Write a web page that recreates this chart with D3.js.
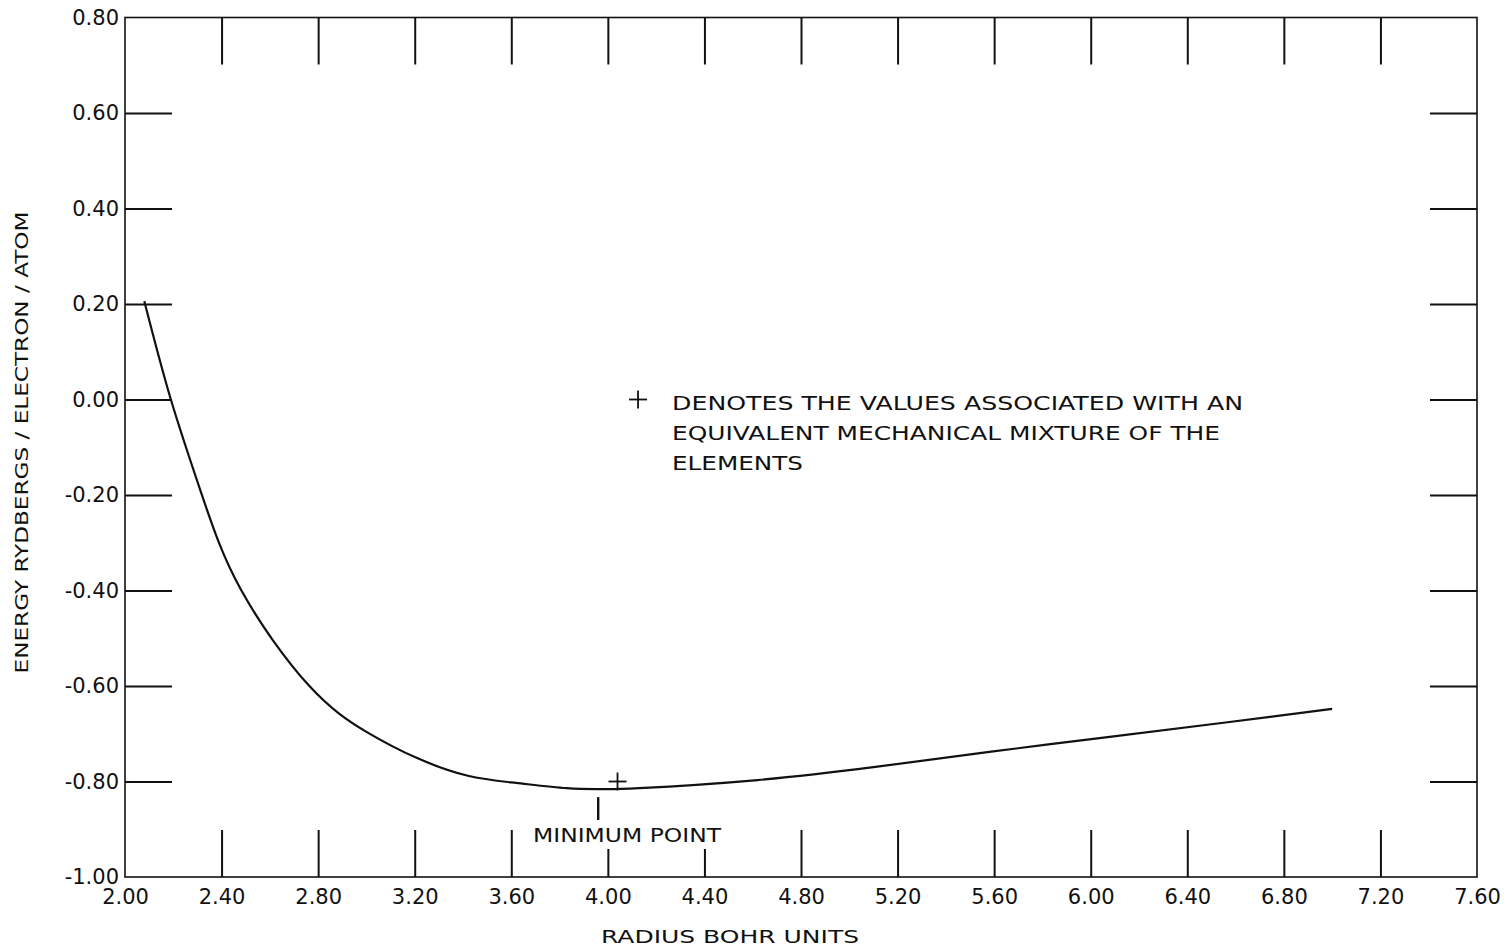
<!DOCTYPE html>
<html>
<head>
<meta charset="utf-8">
<script src="https://cdn.jsdelivr.net/npm/d3@7"></script>
<style>
  body { margin: 0; background: #fff; overflow: hidden; }
  svg { display: block; }
  text { font-family: "DejaVu Sans", sans-serif; fill: #111; }
</style>
</head>
<body>
<svg id="chart"></svg>
<script>
// curve
const radius = [2.08, 2.19, 2.32, 2.48, 2.76, 3.00, 3.21, 3.42, 3.62, 3.83, 3.97, 4.13, 4.62, 5.10, 5.58, 6.07, 6.55, 7.00];
const energy = [0.206, 0.00, -0.202, -0.398, -0.598, -0.696, -0.751, -0.788, -0.803, -0.814, -0.816, -0.814, -0.797, -0.770, -0.738, -0.707, -0.677, -0.648];

const xTicks = [2.00, 2.40, 2.80, 3.20, 3.60, 4.00, 4.40, 4.80, 5.20, 5.60, 6.00, 6.40, 6.80, 7.20, 7.60];
const yTicks = [0.80, 0.60, 0.40, 0.20, 0.00, -0.20, -0.40, -0.60, -0.80, -1.00];

const mixturePoint = [4.04, -0.80];   // the "+" on the curve
const minimumRadius = 3.96;
const legendLines = ['DENOTES THE  VALUES ASSOCIATED WITH AN', 'EQUIVALENT MECHANICAL MIXTURE OF THE', 'ELEMENTS'];

const width = 1508, height = 951;
const plotLeft = 125, plotRight = 1477, plotTop = 17.5, plotBottom = 877;
const tickLen = 47;

const svg = d3.select('#chart').attr('width', width).attr('height', height);

const x = d3.scaleLinear().domain([2.0, 7.6]).range([plotLeft, plotRight]);
const y = d3.scaleLinear().domain([-1.0, 0.8]).range([plotBottom, plotTop]);

const fmt = d => d3.format('.2f')(d).replace('\u2212', '-');

function styleAxis(g) {
  g.select('.domain').remove();
  g.selectAll('.tick line').attr('stroke', '#111').attr('stroke-width', 2);
  g.selectAll('.tick text').attr('font-size', 21).attr('fill', '#111')
    .style('font-family', '"DejaVu Sans", sans-serif');
}

// bottom axis with labels, ticks pointing in
svg.append('g').attr('transform', `translate(0,${plotBottom})`)
  .call(d3.axisBottom(x).tickValues(xTicks.slice(1, -1)).tickSize(-tickLen).tickFormat(''))
  .call(styleAxis);
svg.append('g').attr('transform', `translate(0,${plotBottom})`)
  .call(d3.axisBottom(x).tickValues(xTicks).tickSize(0).tickPadding(12).tickFormat(fmt))
  .call(styleAxis);

// top axis, ticks only
svg.append('g').attr('transform', `translate(0,${plotTop})`)
  .call(d3.axisTop(x).tickValues(xTicks.slice(1, -1)).tickSize(-tickLen).tickFormat(''))
  .call(styleAxis);

// left axis with labels
svg.append('g').attr('transform', `translate(${plotLeft},0)`)
  .call(d3.axisLeft(y).tickValues(yTicks.slice(1, -1)).tickSize(-tickLen).tickFormat(''))
  .call(styleAxis);
svg.append('g').attr('transform', `translate(${plotLeft},0)`)
  .call(d3.axisLeft(y).tickValues(yTicks).tickSize(0).tickPadding(6).tickFormat(fmt))
  .call(styleAxis);

// right axis, ticks only
svg.append('g').attr('transform', `translate(${plotRight},0)`)
  .call(d3.axisRight(y).tickValues(yTicks.slice(1, -1)).tickSize(-tickLen).tickFormat(''))
  .call(styleAxis);

// frame
svg.append('rect')
  .attr('x', plotLeft).attr('y', plotTop)
  .attr('width', plotRight - plotLeft).attr('height', plotBottom - plotTop)
  .attr('fill', 'none').attr('stroke', '#111').attr('stroke-width', 1.6);

// energy curve
const line = d3.line()
  .x((d, i) => x(radius[i]))
  .y(d => y(d))
  .curve(d3.curveNatural);

svg.append('path')
  .datum(energy)
  .attr('d', line)
  .attr('fill', 'none')
  .attr('stroke', '#111')
  .attr('stroke-width', 2.2);

// plus marker
function plus(cx, cy, h) {
  const g = svg.append('g').attr('stroke', '#111').attr('stroke-width', 1.8);
  g.append('line').attr('x1', cx - h).attr('x2', cx + h).attr('y1', cy).attr('y2', cy);
  g.append('line').attr('x1', cx).attr('x2', cx).attr('y1', cy - h).attr('y2', cy + h);
}
plus(x(mixturePoint[0]), y(mixturePoint[1]), 9);

// minimum point pointer and label
const mx = x(minimumRadius);
svg.append('line')
  .attr('x1', mx).attr('x2', mx)
  .attr('y1', y(-0.816) + 8).attr('y2', y(-0.816) + 33)
  .attr('stroke', '#111').attr('stroke-width', 2.4);

svg.append('rect')
  .attr('x', x(3.65)).attr('y', plotBottom - 57)
  .attr('width', x(4.50) - x(3.65)).attr('height', 29)
  .attr('fill', '#fff');
svg.append('text')
  .attr('x', x(3.69)).attr('y', plotBottom - 35)
  .attr('font-size', 19)
  .attr('textLength', 188).attr('lengthAdjust', 'spacingAndGlyphs')
  .text('MINIMUM  POINT');

// legend note
const lx = x(4.125), ly = y(0.0);
plus(lx, ly, 9);
const lineW = [571, 548, 131];
legendLines.forEach((t, i) => {
  svg.append('text')
    .attr('x', lx + 34).attr('y', ly + 10 + i * 30)
    .attr('font-size', 20)
    .attr('textLength', lineW[i]).attr('lengthAdjust', 'spacingAndGlyphs')
    .text(t);
});

// axis titles
svg.append('text')
  .attr('x', 730).attr('y', 943)
  .attr('text-anchor', 'middle')
  .attr('font-size', 17)
  .attr('textLength', 258).attr('lengthAdjust', 'spacingAndGlyphs')
  .text('RADIUS  BOHR UNITS');

svg.append('text')
  .attr('transform', `translate(28,${y(-0.09)}) rotate(-90)`)
  .attr('text-anchor', 'middle')
  .attr('font-size', 17)
  .attr('textLength', 462).attr('lengthAdjust', 'spacingAndGlyphs')
  .text('ENERGY  RYDBERGS / ELECTRON / ATOM');
</script>
</body>
</html>
